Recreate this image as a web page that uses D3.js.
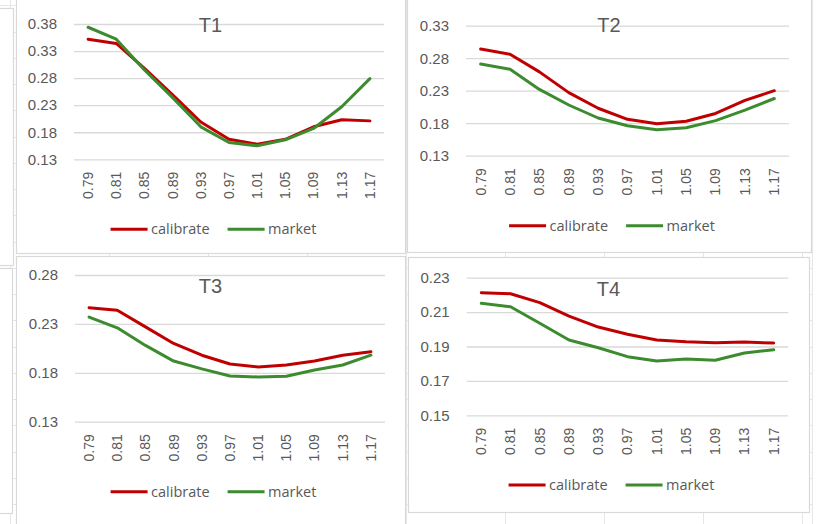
<!DOCTYPE html>
<html>
<head>
<meta charset="utf-8">
<script src="https://cdn.jsdelivr.net/npm/d3@7/dist/d3.min.js"></script>
<style>
  html, body { margin: 0; padding: 0; background: #ffffff; }
  svg { display: block; }
</style>
</head>
<body>
<svg id="sheet" width="830" height="524"></svg>
<script>
// Strike ratios along the horizontal axis
const strikes = ["0.79", "0.81", "0.85", "0.89", "0.93", "0.97", "1.01", "1.05", "1.09", "1.13", "1.17"];

// Implied volatility per maturity: calibrated model vs market quotes
const t1Calibrate = [0.352, 0.344, 0.298, 0.249, 0.199, 0.167, 0.158, 0.167, 0.190, 0.203, 0.201];
const t1Market    = [0.374, 0.352, 0.295, 0.244, 0.190, 0.161, 0.155, 0.166, 0.187, 0.227, 0.279];
const t2Calibrate = [0.294, 0.286, 0.259, 0.227, 0.203, 0.186, 0.179, 0.183, 0.195, 0.215, 0.230];
const t2Market    = [0.271, 0.263, 0.232, 0.208, 0.188, 0.176, 0.170, 0.173, 0.184, 0.200, 0.218];
const t3Calibrate = [0.2466, 0.2439, 0.227, 0.210, 0.198, 0.189, 0.186, 0.188, 0.192, 0.198, 0.2016];
const t3Market    = [0.237, 0.226, 0.208, 0.192, 0.184, 0.1767, 0.1757, 0.1764, 0.1829, 0.188, 0.198];
const t4Calibrate = [0.2213, 0.2207, 0.2155, 0.2077, 0.2013, 0.1971, 0.1938, 0.1928, 0.1922, 0.1926, 0.1920];
const t4Market    = [0.2151, 0.2131, 0.2035, 0.1938, 0.1893, 0.1841, 0.1816, 0.1827, 0.1820, 0.1862, 0.1881];

// Value-axis tick labels per maturity
const t1Ticks = [0.13, 0.18, 0.23, 0.28, 0.33, 0.38];
const t2Ticks = [0.13, 0.18, 0.23, 0.28, 0.33];
const t3Ticks = [0.13, 0.18, 0.23, 0.28];
const t4Ticks = [0.15, 0.17, 0.19, 0.21, 0.23];

const titles = ["T1", "T2", "T3", "T4"];
const seriesNames = ["calibrate", "market"];
const seriesColors = ["#c00000", "#3d8b2f"];

// Layout of each chart object on the sheet
const layout = [
  { box: [16, -8, 405, 253], plot: [74, 384, 24, 159.3],   titleY: 32,    legendY: 229.3 },
  { box: [407, -8, 811, 252], plot: [466, 789, 25.7, 155.7], titleY: 31.7,  legendY: 225.7 },
  { box: [16, 256, 405, 545], plot: [75, 385, 275, 421.7],  titleY: 293.3, legendY: 491.7 },
  { box: [408, 257, 809, 512], plot: [466.7, 788.3, 277.7, 415.3], titleY: 295.7, legendY: 485 }
];

const panels = [
  { calibrate: t1Calibrate, market: t1Market, ticks: t1Ticks },
  { calibrate: t2Calibrate, market: t2Market, ticks: t2Ticks },
  { calibrate: t3Calibrate, market: t3Market, ticks: t3Ticks },
  { calibrate: t4Calibrate, market: t4Market, ticks: t4Ticks }
];

const svg = d3.select("#sheet");
const W = 830, H = 524;
const border = "#d9d9d9";
const textGray = "#595959";

// Spreadsheet cell grid behind the chart objects
const sheetGrid = svg.append("g").attr("stroke", "#e6e6e6").attr("stroke-width", 1);
for (let y = 31.7 - 26.25; y < H; y += 26.25) {
  sheetGrid.append("line").attr("x1", 0).attr("x2", 812)
    .attr("y1", Math.round(y) + 0.5).attr("y2", Math.round(y) + 0.5);
}
for (let x = 10; x < 812; x += 99) {
  sheetGrid.append("line").attr("y1", 0).attr("y2", H)
    .attr("x1", Math.round(x) + 0.5).attr("x2", Math.round(x) + 0.5);
}
sheetGrid.append("line").attr("x1", 812.5).attr("x2", 812.5).attr("y1", 0).attr("y2", H);

// Neighbouring chart objects partly visible at the left edge
[[-40, 8, 13, 265], [-40, 268, 12, 513]].forEach(b => {
  svg.append("rect")
    .attr("x", b[0] + 0.5).attr("y", b[1] + 0.5)
    .attr("width", b[2] - b[0]).attr("height", b[3] - b[1])
    .attr("fill", "#ffffff").attr("stroke", border).attr("stroke-width", 1.2);
});

panels.forEach((p, i) => {
  const L = layout[i];
  const [bx0, by0, bx1, by1] = L.box;
  const [pl, pr, pt, pb] = L.plot;
  const g = svg.append("g");

  // Chart area
  g.append("rect")
    .attr("x", bx0 + 0.5).attr("y", by0 + 0.5)
    .attr("width", bx1 - bx0).attr("height", by1 - by0)
    .attr("fill", "#ffffff").attr("stroke", border).attr("stroke-width", 1.2);

  const ext = d3.extent(p.ticks);
  const y = d3.scaleLinear().domain(ext).range([pb, pt]);
  const x = d3.scaleBand().domain(strikes).range([pl, pr]);

  // Horizontal gridlines
  g.append("g")
    .attr("transform", `translate(${pl},0)`)
    .call(d3.axisLeft(y).tickValues(p.ticks).tickSize(-(pr - pl)).tickFormat(""))
    .call(a => a.select(".domain").remove())
    .call(a => a.selectAll("line").attr("stroke", border).attr("stroke-width", 1.3));

  // Value labels
  g.append("g")
    .attr("transform", `translate(${pl - 17},0)`)
    .call(d3.axisLeft(y).tickValues(p.ticks).tickSize(0).tickPadding(0).tickFormat(d3.format(".2f")))
    .call(a => a.select(".domain").remove())
    .call(a => a.selectAll("text")
      .attr("fill", textGray)
      .style("font-family", "'Liberation Sans', Arial, sans-serif")
      .style("font-size", "15px"));

  // Strike labels, rotated
  g.append("g")
    .attr("transform", `translate(0,${pb + 12.5})`)
    .call(d3.axisBottom(x).tickSize(0).tickPadding(0))
    .call(a => a.select(".domain").remove())
    .call(a => a.selectAll("text")
      .attr("transform", "rotate(-90)")
      .attr("text-anchor", "end")
      .attr("x", 0).attr("y", 0).attr("dy", "0.35em")
      .attr("fill", textGray)
      .style("font-family", "'Liberation Sans', Arial, sans-serif")
      .style("font-size", "14px"));

  // Series lines
  const line = d3.line()
    .x((d, k) => x(strikes[k]) + x.bandwidth() / 2)
    .y(d => y(d));
  [p.calibrate, p.market].forEach((vals, s) => {
    g.append("path")
      .datum(vals)
      .attr("d", line)
      .attr("fill", "none")
      .attr("stroke", seriesColors[s])
      .attr("stroke-width", 3)
      .attr("stroke-linejoin", "round")
      .attr("stroke-linecap", "round");
  });

  // Title
  g.append("text")
    .attr("x", (bx0 + bx1) / 2)
    .attr("y", L.titleY)
    .attr("text-anchor", "middle")
    .attr("fill", textGray)
    .style("font-family", "'Liberation Sans', Arial, sans-serif")
    .style("font-size", "20px")
    .text(titles[i]);

  // Legend, centred under the plot
  const leg = g.append("g");
  const items = seriesNames.map((name, s) => {
    const it = leg.append("g");
    it.append("line")
      .attr("x1", 0).attr("x2", 37).attr("y1", 0).attr("y2", 0)
      .attr("stroke", seriesColors[s]).attr("stroke-width", 3);
    const t = it.append("text")
      .attr("x", 40.5).attr("y", 0).attr("dy", "0.35em")
      .attr("fill", textGray)
      .style("font-family", "'Open Sans', sans-serif")
      .style("font-size", "14.5px")
      .text(name);
    return { it, w: 40.5 + t.node().getComputedTextLength() };
  });
  const gap = 18;
  const total = items[0].w + gap + items[1].w;
  let cx = (bx0 + bx1) / 2 + 3 - total / 2;
  items.forEach(o => {
    o.it.attr("transform", `translate(${cx},${L.legendY})`);
    cx += o.w + gap;
  });
});
</script>
</body>
</html>
